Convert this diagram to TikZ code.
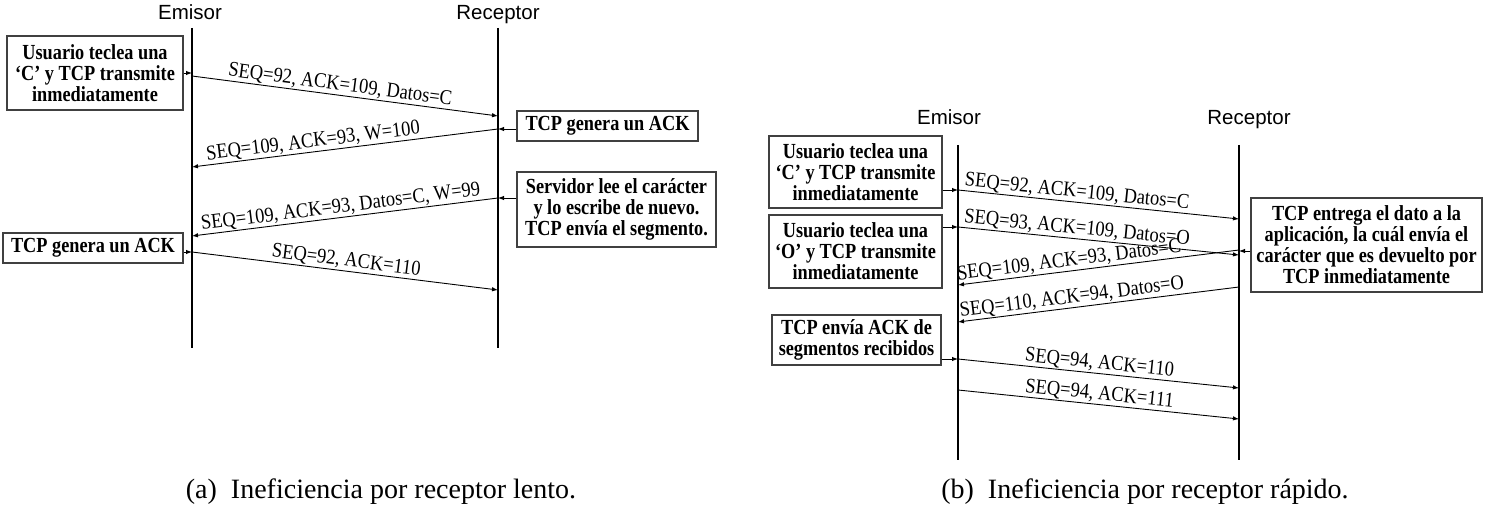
\documentclass[tikz,border=0pt]{standalone}
\usepackage{fontspec}
\usetikzlibrary{arrows.meta}
\setmainfont{Liberation Serif}
\newfontfamily\boxfont[FakeStretch=0.85]{Liberation Serif}
\newfontfamily\lblfont[FakeStretch=0.88]{Liberation Serif}
\newfontfamily\capfont{Liberation Serif}
\newfontfamily\sansf{Liberation Sans}
\begin{document}
\begin{tikzpicture}[x=1pt,y=-1pt,
  box/.style={draw=black!75, line width=1.3pt, fill=white, align=center, inner sep=0pt,
    font=\boxfont\bfseries\fontsize{21.5}{21}\selectfont},
  life/.style={line width=2.2pt, black},
  msg/.style={line width=0.9pt, -{Latex[length=6pt,width=4.5pt]}},
  lbl/.style={font=\lblfont\fontsize{21}{22}\selectfont, sloped, above, inner sep=1pt},
  who/.style={font=\sansf\fontsize{20.5}{22}\selectfont, anchor=base},
  subcap/.style={font=\capfont\fontsize{28}{30}\selectfont, anchor=base}]
\useasboundingbox (0,0) rectangle (1486,513);
% ---------- (a) ----------
\node[who] (ea) at (190,20) {Emisor};
\node[who] (ra) at (498,20) {Receptor};
\coordinate (eat) at (192,28); \coordinate (eab) at (192,348);
\coordinate (rat) at (498,28); \coordinate (rab) at (498,348);
\draw[life] (eat) -- (eab);
\draw[life] (rat) -- (rab);

\node[box, minimum width=176pt, minimum height=74pt] (a1) at (95,73)
  {Usuario teclea una\\‘C’ y TCP transmite\\inmediatamente};
\node[box, minimum width=181pt, minimum height=30pt] (a2) at (607.5,126)
  {TCP genera un ACK};
\node[box, minimum width=199pt, minimum height=75pt] (a3) at (616.5,209.5)
  {Servidor lee el carácter\\y lo escribe de nuevo.\\TCP envía el segmento.};
\node[box, minimum width=180pt, minimum height=30pt] (a4) at (93,248)
  {TCP genera un ACK};

\coordinate (s1) at (192,73);  \coordinate (p1) at (192,76);  \coordinate (q1) at (498,116);
\coordinate (s2) at (498,129); \coordinate (q2) at (192,167);
\coordinate (s3) at (498,198); \coordinate (q3) at (192,236);
\coordinate (s4) at (192,252); \coordinate (q4) at (498,290);

\draw[msg] (a1.east |- s1) -- (s1);
\draw[msg] (p1) -- node[lbl, pos=0.48] {SEQ=92, ACK=109, Datos=C} (q1);
\draw[msg] (a2.west |- s2) -- (s2);
\draw[msg] (s2) -- node[lbl, pos=0.6] {SEQ=109, ACK=93, W=100} (q2);
\draw[msg] (a3.west |- s3) -- (s3);
\draw[msg] (s3) -- node[lbl, pos=0.51] {SEQ=109, ACK=93, Datos=C, W=99} (q3);
\draw[msg] (a4.east |- s4) -- (s4);
\draw[msg] (s4) -- node[lbl, pos=0.5] {SEQ=92, ACK=110} (q4);

\node[subcap] (capa) at (381,498) {(a)\hspace{0.5em}Ineficiencia por receptor lento.};

% ---------- (b) ----------
\node[who] (eb) at (949,125) {Emisor};
\node[who] (rb) at (1249,125) {Receptor};
\coordinate (ebt) at (958,145); \coordinate (ebb) at (958,460);
\coordinate (rbt) at (1239,145); \coordinate (rbb) at (1239,460);
\draw[life] (ebt) -- (ebb);
\draw[life] (rbt) -- (rbb);

\node[box, minimum width=173pt, minimum height=72pt] (b1) at (855.5,172)
  {Usuario teclea una\\‘C’ y TCP transmite\\inmediatamente};
\node[box, minimum width=173pt, minimum height=73pt] (b2) at (855.5,251.5)
  {Usuario teclea una\\‘O’ y TCP transmite\\inmediatamente};
\node[box, minimum width=231pt, minimum height=94pt] (b3) at (1366.5,245)
  {TCP entrega el dato a la\\aplicación, la cuál envía el\\carácter que es devuelto por\\TCP inmediatamente};
\node[box, minimum width=169pt, minimum height=50pt] (b4) at (856.5,340)
  {TCP envía ACK de\\segmentos recibidos};

\coordinate (t1) at (958,190);  \coordinate (u1) at (1239,219);
\coordinate (t2) at (958,227);  \coordinate (u2) at (1239,255);
\coordinate (t3) at (1239,251); \coordinate (t3b) at (1239,250); \coordinate (u3) at (958,285);
\coordinate (t4) at (1239,287); \coordinate (u4) at (958,322);
\coordinate (t5) at (958,359);  \coordinate (u5) at (1239,388);
\coordinate (t6) at (958,390);  \coordinate (u6) at (1239,419);

\draw[msg] (b1.east |- t1) -- (t1);
\draw[msg] (t1) -- node[lbl, pos=0.42] {SEQ=92, ACK=109, Datos=C} (u1);
\draw[msg] (b2.east |- t2) -- (t2);
\draw[msg] (t2) -- node[lbl, pos=0.42] {SEQ=93, ACK=109, Datos=O} (u2);
\draw[msg] (b3.west |- t3) -- (t3);
\draw[msg] (t3b) -- node[lbl, pos=0.6] {SEQ=109, ACK=93, Datos=C} (u3);
\draw[msg] (t4) -- node[lbl, pos=0.59] {SEQ=110, ACK=94, Datos=O} (u4);
\draw[msg] (b4.east |- t5) -- (t5);
\draw[msg] (t5) -- node[lbl, pos=0.5] {SEQ=94, ACK=110} (u5);
\draw[msg] (t6) -- node[lbl, pos=0.5] {SEQ=94, ACK=111} (u6);

\node[subcap] (capb) at (1145,498) {(b)\hspace{0.5em}Ineficiencia por receptor rápido.};
\end{tikzpicture}
\end{document}
